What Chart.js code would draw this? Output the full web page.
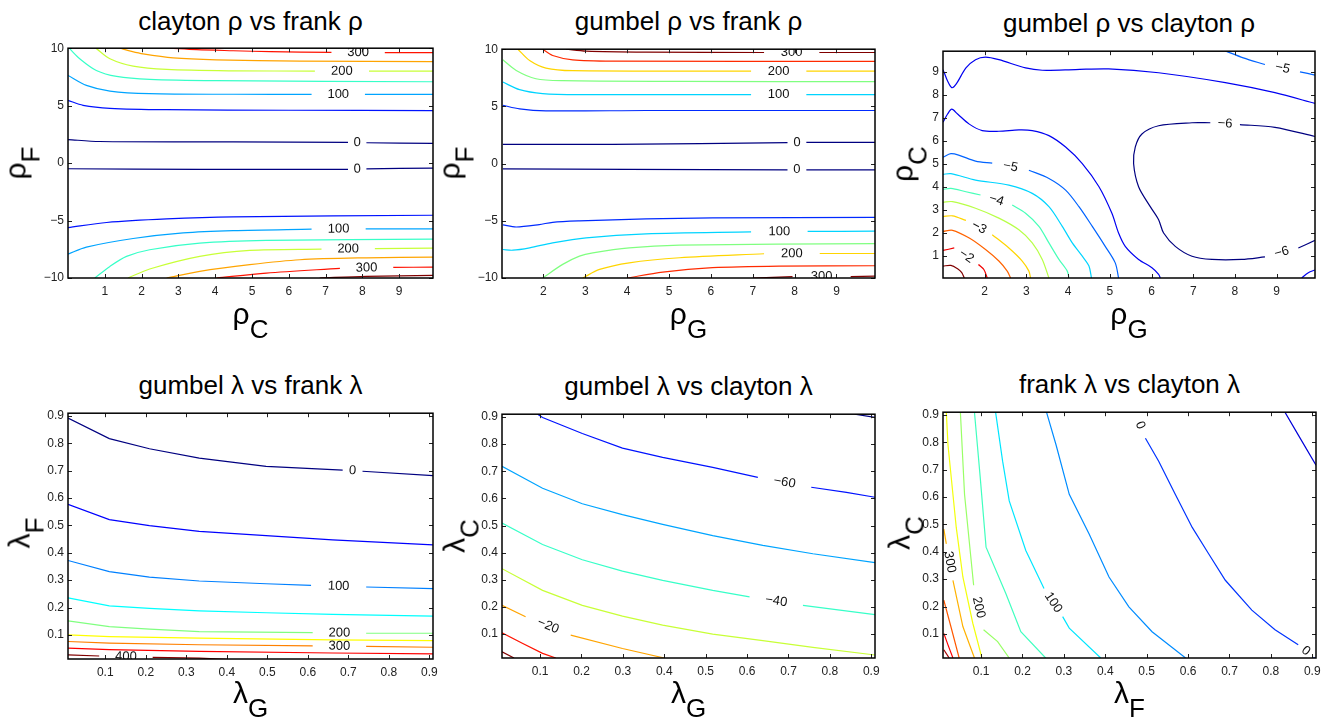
<!DOCTYPE html>
<html>
<head>
<meta charset="utf-8">
<script src="https://cdn.jsdelivr.net/npm/chart.js@4.4.1/dist/chart.umd.min.js"></script>
<style>
  body { margin: 0; width: 1338px; height: 724px; background: #fff; position: relative; overflow: hidden;
         font-family: "Liberation Sans", Arial, sans-serif; color: #000; }
  .panel { position: absolute; }
  .title { position: absolute; font-size: 26px; line-height: 30px; white-space: nowrap; transform: translateX(-50%); }
  .xl { position: absolute; font-size: 30px; line-height: 34px; white-space: nowrap; transform: translateX(-50%); }
  .yl { position: absolute; font-size: 30px; line-height: 34px; white-space: nowrap; transform: translate(-50%, -50%) rotate(-90deg); }
  .sub { font-size: 26px; position: relative; top: 14px; }
</style>
</head>
<body>
<script>
// contour levels and lines ([x, y] points, null = gap where the label sits)
const cfRhoLevels = [300, 250, 200, 150, 100, 50, 0, 0, 50, 100, 150, 200, 250, 300, 350];
const cfRhoLines = [
  [[2.77,10],[3.5,9.87],[4.49,9.78],[5.5,9.7],[7.16,9.63],null,[8.61,9.62],[9.92,9.62]],
  [[1.41,10],[1.7,9.75],[2.04,9.51],[2.86,9.16],[4.03,8.99],[6.3,8.87],[9.92,8.84]],
  [[0.76,10],[1.14,9.08],[1.77,8.44],[2.68,8.15],[4.49,8.03],[6.71,8.01],null,[8.18,8.0],[9.92,8.0]],
  [[0.05,9.94],[0.32,9.08],[0.77,8.06],[1.32,7.54],[2.22,7.28],[4.03,7.17],[9.92,7.08]],
  [[0,7.63],[0.5,6.76],[1.14,6.27],[2.22,6.04],[4.5,5.99],[6.62,5.98],null,[8.07,5.98],[9.92,5.98]],
  [[0,5.46],[0.41,5.03],[1.14,4.77],[2.68,4.65],[6,4.6],[9.92,4.57]],
  [[0,2.05],[0.86,1.88],[4.49,1.85],[7.61,1.8],null,[8.11,1.77],[9.92,1.71]],
  [[0,-0.49],[3.58,-0.55],[7.61,-0.55],null,[8.11,-0.5],[9.92,-0.43]],
  [[0,-5.61],[1.05,-5.17],[2.68,-4.86],[4.49,-4.68],[9.92,-4.54]],
  [[0,-7.92],[0.5,-7.31],[1.77,-6.56],[3.13,-6.07],[4.49,-5.87],[6.62,-5.75],null,[8.09,-5.72],[9.92,-5.72]],
  [[0.73,-10],[1.14,-8.99],[1.59,-8.12],[2.22,-7.54],[3.58,-6.97],[5.39,-6.73],[9.92,-6.62]],
  [[1.63,-10],[2.22,-9.22],[3.58,-8.12],[4.94,-7.6],[6.89,-7.49],null,[8.34,-7.44],[9.92,-7.4]],
  [[2.68,-10],[3.58,-9.42],[4.94,-8.84],[6.3,-8.41],[8.11,-8.24],[9.92,-8.18]],
  [[4.03,-10],[5.39,-9.57],[7.39,-9.16],null,[8.84,-9.08],[9.92,-9.05]],
  [[6.84,-10],[8.11,-9.86],[9.92,-9.77]]
];

const gfRhoLevels = [300, 250, 200, 150, 100, 50, 0, 0, 50, 100, 150, 200, 250, 300];
const gfRhoLines = [
  [[2.54,10],[3.02,9.83],[4.45,9.74],[7.27,9.71],null,[8.59,9.71],[9.92,9.71]],
  [[1.98,10],[2.22,9.45],[2.70,9.07],[3.65,8.96],[9.92,8.93]],
  [[1.39,10],[1.67,9.01],[2.06,8.35],[2.70,8.12],[6.96,8.09],null,[8.28,8.09],[9.92,8.09]],
  [[1.03,9.07],[1.35,8.14],[1.82,7.42],[2.46,7.25],[5.25,7.19],[9.92,7.16]],
  [[1.03,7.13],[1.43,6.46],[1.98,6.12],[2.86,6.03],[6.96,6.03],null,[8.28,6.03],[9.92,6.03]],
  [[1.03,5.10],[1.43,4.78],[2.06,4.61],[4.45,4.64],[9.92,4.64]],
  [[1.03,1.68],[3.65,1.68],[7.83,1.83],null,[8.28,1.86],[9.92,1.86]],
  [[1.03,-0.46],[4,-0.5],[7.83,-0.55],null,[8.28,-0.55],[9.92,-0.55]],
  [[1.03,-5.36],[1.35,-5.54],[1.9,-5.33],[2.22,-5.13],[2.86,-5.01],[4.45,-4.84],[6.04,-4.75],[9.92,-4.70]],
  [[1.03,-7.51],[1.27,-7.57],[1.67,-7.36],[2.22,-6.93],[3.02,-6.49],[4.45,-6.14],[6.96,-5.97],null,[8.31,-5.93],[9.92,-5.91]],
  [[1.98,-10],[2.46,-8.81],[2.86,-8.09],[3.18,-7.8],[4.05,-7.36],[5.25,-7.13],[9.92,-6.99]],
  [[2.94,-10],[3.34,-9.25],[4.05,-8.67],[5.25,-8.23],[7.27,-7.88],null,[8.60,-7.86],[9.92,-7.86]],
  [[4.01,-10],[4.85,-9.48],[6.04,-9.10],[7.63,-8.96],[9.92,-8.93]],
  [[7.0,-10],[7.95,-9.88],null,[9.34,-9.88],[9.92,-9.83]]
];

const gcRhoLevels = [-5, -5.5, -5.5, -6, -5.5, -5, -4.5, -4, -3.5, -3, -2.5, -2, -1.5];
const gcRhoLines = [
  [[7.77,9.92],[8.2,9.62],[8.72,9.33],null,[9.56,9.01],[9.92,8.87]],
  [[1.0,9.1],[1.03,8.97],[1.11,8.61],[1.21,8.32],[1.31,8.46],[1.55,9.18],[1.78,9.54],[2.02,9.65],[2.34,9.54],[2.98,9.18],[3.38,9.08],[4.18,9.11],[4.97,9.14],[6.17,8.97],[7.77,8.54],[8.96,8.10],[9.92,7.63]],
  [[1.0,6.81],[1.11,7.17],[1.21,7.38],[1.35,7.17],[1.63,6.73],[1.94,6.45],[2.34,6.42],[2.82,6.48],[3.14,6.45],[3.54,6.23],[3.94,5.73],[4.34,5.01],[4.74,4.0],[5.05,2.84],[5.21,1.98],[5.37,1.40],[5.69,0.83],[6.01,0.47],[6.17,0.18],[6.21,0.02]],
  [[9.92,6.19],[8.96,6.59],[8.12,6.71],null,[7.41,6.79],[6.97,6.79],[6.17,6.66],[5.77,6.30],[5.61,5.73],[5.57,5.01],[5.69,4.0],[5.97,3.13],[6.17,2.56],[6.29,1.98],[6.57,1.40],[6.97,0.97],[7.45,0.83],[8.16,0.83],[8.72,0.94],null,[9.52,1.33],[9.92,1.66]],
  [[9.6,0.02],[9.76,0.25],[9.92,0.37]],
  [[1.0,5.29],[1.19,5.44],[1.39,5.37],[1.78,5.12],[2.18,5.03],null,[3.06,4.72],[3.54,4.36],[3.94,3.85],[4.26,3.13],[4.58,2.27],[4.89,1.40],[5.13,0.68],[5.21,0.02]],
  [[1.0,4.54],[1.19,4.57],[1.78,4.29],[2.58,4.07],[3.14,3.71],[3.54,3.13],[3.86,2.27],[4.1,1.55],[4.34,0.97],[4.5,0.54],[4.56,0.02]],
  [[1.0,3.88],[1.19,3.93],[1.55,3.78],[1.90,3.64],null,[2.66,3.20],[2.98,2.84],[3.30,2.27],[3.54,1.55],[3.78,0.83],[3.98,0.32],[4.02,0.02]],
  [[1.0,3.32],[1.23,3.35],[1.78,3.06],[2.34,2.63],[2.82,2.12],[3.14,1.55],[3.38,0.83],[3.54,0.02]],
  [[1.0,2.70],[1.23,2.73],[1.55,2.53],null,[2.18,1.91],[2.58,1.33],[2.9,0.76],[3.06,0.32],[3.10,0.02]],
  [[1.0,2.05],[1.23,2.10],[1.63,1.76],[2.02,1.26],[2.34,0.76],[2.54,0.32],[2.62,0.02]],
  [[1.0,1.22],[1.27,1.33],null,[1.85,0.61],[1.98,0.39],[2.06,0.02]],
  [[1.0,0.54],[1.19,0.57],[1.35,0.42],[1.45,0.25],[1.51,0.02]]
];

const gfLamLevels = [0, 50, 100, 150, 200, 250, 300, 350, 400];
const gfLamLines = [
  [[0.008,0.892],[0.110,0.817],[0.209,0.780],[0.332,0.746],[0.497,0.716],[0.686,0.702],null,[0.735,0.698],[0.909,0.682]],
  [[0.008,0.577],[0.110,0.521],[0.209,0.499],[0.332,0.478],[0.497,0.463],[0.661,0.447],[0.909,0.429]],
  [[0.008,0.372],[0.110,0.331],[0.209,0.311],[0.332,0.297],[0.497,0.287],[0.608,0.281],null,[0.744,0.275],[0.909,0.269]],
  [[0.008,0.235],[0.110,0.206],[0.209,0.197],[0.332,0.188],[0.497,0.181],[0.661,0.175],[0.909,0.169]],
  [[0.008,0.151],[0.110,0.130],[0.209,0.121],[0.332,0.112],[0.612,0.108],null,[0.744,0.106],[0.909,0.106]],
  [[0.008,0.100],[0.110,0.094],[0.332,0.088],[0.661,0.082],[0.909,0.079]],
  [[0.008,0.076],[0.110,0.070],[0.332,0.064],[0.612,0.060],null,[0.744,0.058],[0.909,0.055]],
  [[0.008,0.052],[0.110,0.046],[0.332,0.040],[0.661,0.034],[0.909,0.031]],
  [[0.008,0.027],[0.085,0.023],null,[0.217,0.018],[0.332,0.015],[0.40,0.011]]
];

const gcLamLevels = [-70, -60, -50, -40, -30, -20, -10, 0];
const gcLamLines = [
  [[0.86,0.91],[0.909,0.898]],
  [[0.094,0.91],[0.106,0.898],[0.202,0.839],[0.299,0.785],[0.396,0.751],[0.517,0.714],[0.626,0.677],null,[0.755,0.641],[0.840,0.622],[0.909,0.604]],
  [[0.008,0.718],[0.106,0.637],[0.202,0.580],[0.299,0.540],[0.396,0.504],[0.517,0.463],[0.638,0.427],[0.759,0.396],[0.909,0.363]],
  [[0.008,0.509],[0.106,0.430],[0.202,0.374],[0.299,0.332],[0.396,0.298],[0.517,0.261],[0.606,0.237],null,[0.735,0.206],[0.909,0.172]],
  [[0.008,0.341],[0.106,0.261],[0.202,0.206],[0.299,0.166],[0.396,0.133],[0.517,0.100],[0.638,0.076],[0.759,0.051],[0.909,0.023]],
  [[0.008,0.206],[0.065,0.164],null,[0.174,0.096],[0.299,0.047],[0.40,0.012]],
  [[0.008,0.105],[0.057,0.066],[0.106,0.029],[0.138,0.012]],
  [[0.008,0.035],[0.037,0.012]]
];

const fcLamLevels = [-50, 0, 50, 100, 150, 200, 250, 300, 350, 400, 450];
const fcLamLines = [
  [[0.834,0.91],[0.866,0.827],[0.909,0.716]],
  [[0.472,0.91],null,[0.497,0.815],[0.529,0.731],[0.569,0.610],[0.610,0.489],[0.650,0.392],[0.690,0.296],[0.754,0.187],[0.810,0.115],[0.866,0.060],null,[0.903,0.015],[0.909,0.008]],
  [[0.258,0.91],[0.281,0.791],[0.313,0.610],[0.361,0.465],[0.409,0.308],[0.457,0.199],[0.513,0.108],[0.594,0.012]],
  [[0.135,0.91],[0.152,0.731],[0.168,0.586],[0.208,0.405],[0.252,0.266],null,[0.297,0.163],[0.313,0.121],[0.389,0.012]],
  [[0.084,0.91],[0.098,0.670],[0.112,0.417],[0.160,0.247],[0.196,0.108],[0.256,0.012]],
  [[0.050,0.91],[0.060,0.610],[0.082,0.278],null,[0.106,0.115],[0.140,0.072],[0.168,0.012]],
  [[0.016,0.91],[0.020,0.791],[0.040,0.489],[0.056,0.308],[0.080,0.139],[0.102,0.012]],
  [[0.010,0.483],[0.016,0.429],null,[0.032,0.296],[0.056,0.127],[0.084,0.012]],
  [[0.010,0.223],[0.027,0.127],[0.047,0.012]],
  [[0.010,0.102],[0.020,0.060],[0.032,0.012]],
  [[0.010,0.042],[0.023,0.012]]
];

// tick values
const rhoCTicks = [1, 2, 3, 4, 5, 6, 7, 8, 9];
const rhoGTicks = [2, 3, 4, 5, 6, 7, 8, 9];
const rhoFTicks = [-10, -5, 0, 5, 10];
const lamTicks = [0.1, 0.2, 0.3, 0.4, 0.5, 0.6, 0.7, 0.8, 0.9];

const fontFam = '"Liberation Sans", Arial, sans-serif';
const fmt = v => v < 0 ? '\u2212' + Math.abs(v) : String(v);

function jet(v, lo, hi) {
  const t = (v - lo) / (hi - lo);
  const c = k => Math.round(255 * Math.max(0, Math.min(1, 1.5 - Math.abs(4 * t - k))));
  return `rgb(${c(3)},${c(2)},${c(1)})`;
}

// contour labels in the gaps, then the box with inward ticks
const framePlugin = {
  id: 'frame',
  afterDatasetsDraw(chart, args, opts) {
    const { ctx, chartArea: a, scales: { x, y } } = chart;
    ctx.save();
    ctx.beginPath();
    ctx.rect(a.left, a.top, a.width, a.height);
    ctx.clip();
    ctx.font = '13px ' + fontFam;
    ctx.fillStyle = '#111';
    ctx.textAlign = 'center';
    ctx.textBaseline = 'middle';
    opts.lines.forEach((line, i) => {
      for (let k = 1; k < line.length - 1; k++) {
        if (line[k] !== null) continue;
        const p = line[k - 1], q = line[k + 1];
        const x1 = x.getPixelForValue(p[0]), y1 = y.getPixelForValue(p[1]);
        const x2 = x.getPixelForValue(q[0]), y2 = y.getPixelForValue(q[1]);
        let ang = Math.atan2(y2 - y1, x2 - x1);
        if (ang > Math.PI / 2) ang -= Math.PI;
        if (ang < -Math.PI / 2) ang += Math.PI;
        ctx.save();
        ctx.translate((x1 + x2) / 2, (y1 + y2) / 2);
        ctx.rotate(ang);
        ctx.fillText(fmt(opts.levels[i]), 0, 0);
        ctx.restore();
      }
    });
    ctx.restore();

    ctx.save();
    ctx.strokeStyle = '#222';
    ctx.lineWidth = 1;
    ctx.beginPath();
    x.ticks.forEach(t => {
      const px = Math.round(x.getPixelForValue(t.value)) + 0.5;
      ctx.moveTo(px, a.bottom); ctx.lineTo(px, a.bottom - 4);
      ctx.moveTo(px, a.top); ctx.lineTo(px, a.top + 4);
    });
    y.ticks.forEach(t => {
      const py = Math.round(y.getPixelForValue(t.value)) + 0.5;
      ctx.moveTo(a.left, py); ctx.lineTo(a.left + 4, py);
      ctx.moveTo(a.right, py); ctx.lineTo(a.right - 4, py);
    });
    ctx.stroke();
    ctx.strokeStyle = '#000';
    ctx.lineWidth = 1.5;
    ctx.strokeRect(a.left, a.top, a.width, a.height);
    ctx.restore();
  }
};

const panels = [
  { lines: cfRhoLines, levels: cfRhoLevels, xr: [0, 9.92], yr: [-10, 10], xt: rhoCTicks, yt: rhoFTicks,
    box: [68, 47, 433, 278], cmap: [0, 350], tension: 0.3, padL: 40,
    title: 'clayton \u03c1 vs frank \u03c1', titleTop: 6, xl: ['\u03c1', 'C'], xlTop: 297, yl: ['\u03c1', 'F'], ylc: [16, 163] },
  { lines: gfRhoLines, levels: gfRhoLevels, xr: [1.01, 9.92], yr: [-10, 10], xt: rhoGTicks, yt: rhoFTicks,
    box: [502, 48, 875, 278], cmap: [0, 300], tension: 0.3, padL: 40,
    title: 'gumbel \u03c1 vs frank \u03c1', titleTop: 6, xl: ['\u03c1', 'G'], xlTop: 297, yl: ['\u03c1', 'F'], ylc: [450, 163] },
  { lines: gcRhoLines, levels: gcRhoLevels, xr: [1.0, 9.92], yr: [0.02, 9.91], xt: rhoGTicks, yt: rhoCTicks,
    box: [943, 50, 1315, 278], cmap: [-6, -1.5], tension: 0.3, padL: 30,
    title: 'gumbel \u03c1 vs clayton \u03c1', titleTop: 8, xl: ['\u03c1', 'G'], xlTop: 297, yl: ['\u03c1', 'C'], ylc: [903, 164] },
  { lines: gfLamLines, levels: gfLamLevels, xr: [0.008, 0.909], yr: [0.012, 0.91], xt: lamTicks, yt: lamTicks,
    box: [68, 412, 433, 659], cmap: [0, 400], tension: 0, padL: 40,
    title: 'gumbel \u03bb vs frank \u03bb', titleTop: 370, xl: ['\u03bb', 'G'], xlTop: 676, yl: ['\u03bb', 'F'], ylc: [20, 533] },
  { lines: gcLamLines, levels: gcLamLevels, xr: [0.008, 0.909], yr: [0.012, 0.91], xt: lamTicks, yt: lamTicks,
    box: [502, 413, 875, 658], cmap: [-70, 0], tension: 0, padL: 40,
    title: 'gumbel \u03bb vs clayton \u03bb', titleTop: 371, xl: ['\u03bb', 'G'], xlTop: 676, yl: ['\u03bb', 'C'], ylc: [455, 536] },
  { lines: fcLamLines, levels: fcLamLevels, xr: [0.008, 0.909], yr: [0.012, 0.91], xt: lamTicks, yt: lamTicks,
    box: [943, 411, 1316, 658], cmap: [-100, 471], tension: 0, padL: 40,
    title: 'frank \u03bb vs clayton \u03bb', titleTop: 369, xl: ['\u03bb', 'F'], xlTop: 676, yl: ['\u03bb', 'C'], ylc: [900, 533] }
];

function addText(cls, html, left, top) {
  const d = document.createElement('div');
  d.className = cls;
  d.innerHTML = html;
  d.style.left = left + 'px';
  d.style.top = top + 'px';
  document.body.appendChild(d);
}

panels.forEach(p => {
  const [L, T, R, B] = p.box;
  const padT = 10, padR = 14, padB = 24;
  const div = document.createElement('div');
  div.className = 'panel';
  div.style.left = (L - p.padL) + 'px';
  div.style.top = (T - padT) + 'px';
  const cv = document.createElement('canvas');
  cv.width = R - L + p.padL + padR;
  cv.height = B - T + padT + padB;
  cv.style.width = cv.width + 'px';
  cv.style.height = cv.height + 'px';
  div.appendChild(cv);
  document.body.appendChild(div);

  const datasets = [];
  p.lines.forEach((line, i) => {
    let seg = [];
    const flush = () => {
      if (seg.length > 1) {
        datasets.push({
          data: seg, showLine: true, pointRadius: 0, borderWidth: 1.2, fill: false,
          tension: p.tension, borderColor: jet(p.levels[i], p.cmap[0], p.cmap[1])
        });
      }
      seg = [];
    };
    line.forEach(pt => pt === null ? flush() : seg.push({ x: pt[0], y: pt[1] }));
    flush();
  });

  const tickFont = { family: fontFam, size: 12 };
  new Chart(cv, {
    type: 'scatter',
    data: { datasets },
    options: {
      responsive: false,
      animation: false,
      devicePixelRatio: 1,
      layout: { padding: { left: 0, top: padT, right: padR, bottom: 0 } },
      plugins: {
        legend: { display: false },
        tooltip: { enabled: false },
        frame: { lines: p.lines, levels: p.levels }
      },
      scales: {
        x: {
          type: 'linear', min: p.xr[0], max: p.xr[1],
          grid: { display: false, drawTicks: false }, border: { display: false },
          afterBuildTicks: s => { s.ticks = p.xt.map(v => ({ value: v })); },
          afterFit: s => { s.height = padB; },
          ticks: { autoSkip: false, maxRotation: 0, padding: 6, color: '#222', font: tickFont, callback: v => fmt(v) }
        },
        y: {
          type: 'linear', min: p.yr[0], max: p.yr[1],
          grid: { display: false, drawTicks: false }, border: { display: false },
          afterBuildTicks: s => { s.ticks = p.yt.map(v => ({ value: v })); },
          afterFit: s => { s.width = p.padL; },
          ticks: { autoSkip: false, padding: 4, color: '#222', font: tickFont, callback: v => fmt(v) }
        }
      }
    },
    plugins: [framePlugin]
  });

  const cx = (L + R) / 2;
  addText('title', p.title, cx, p.titleTop);
  addText('xl', p.xl[0] + '<span class="sub">' + p.xl[1] + '</span>', cx, p.xlTop);
  addText('yl', p.yl[0] + '<span class="sub">' + p.yl[1] + '</span>', p.ylc[0], p.ylc[1]);
});
</script>
</body>
</html>
